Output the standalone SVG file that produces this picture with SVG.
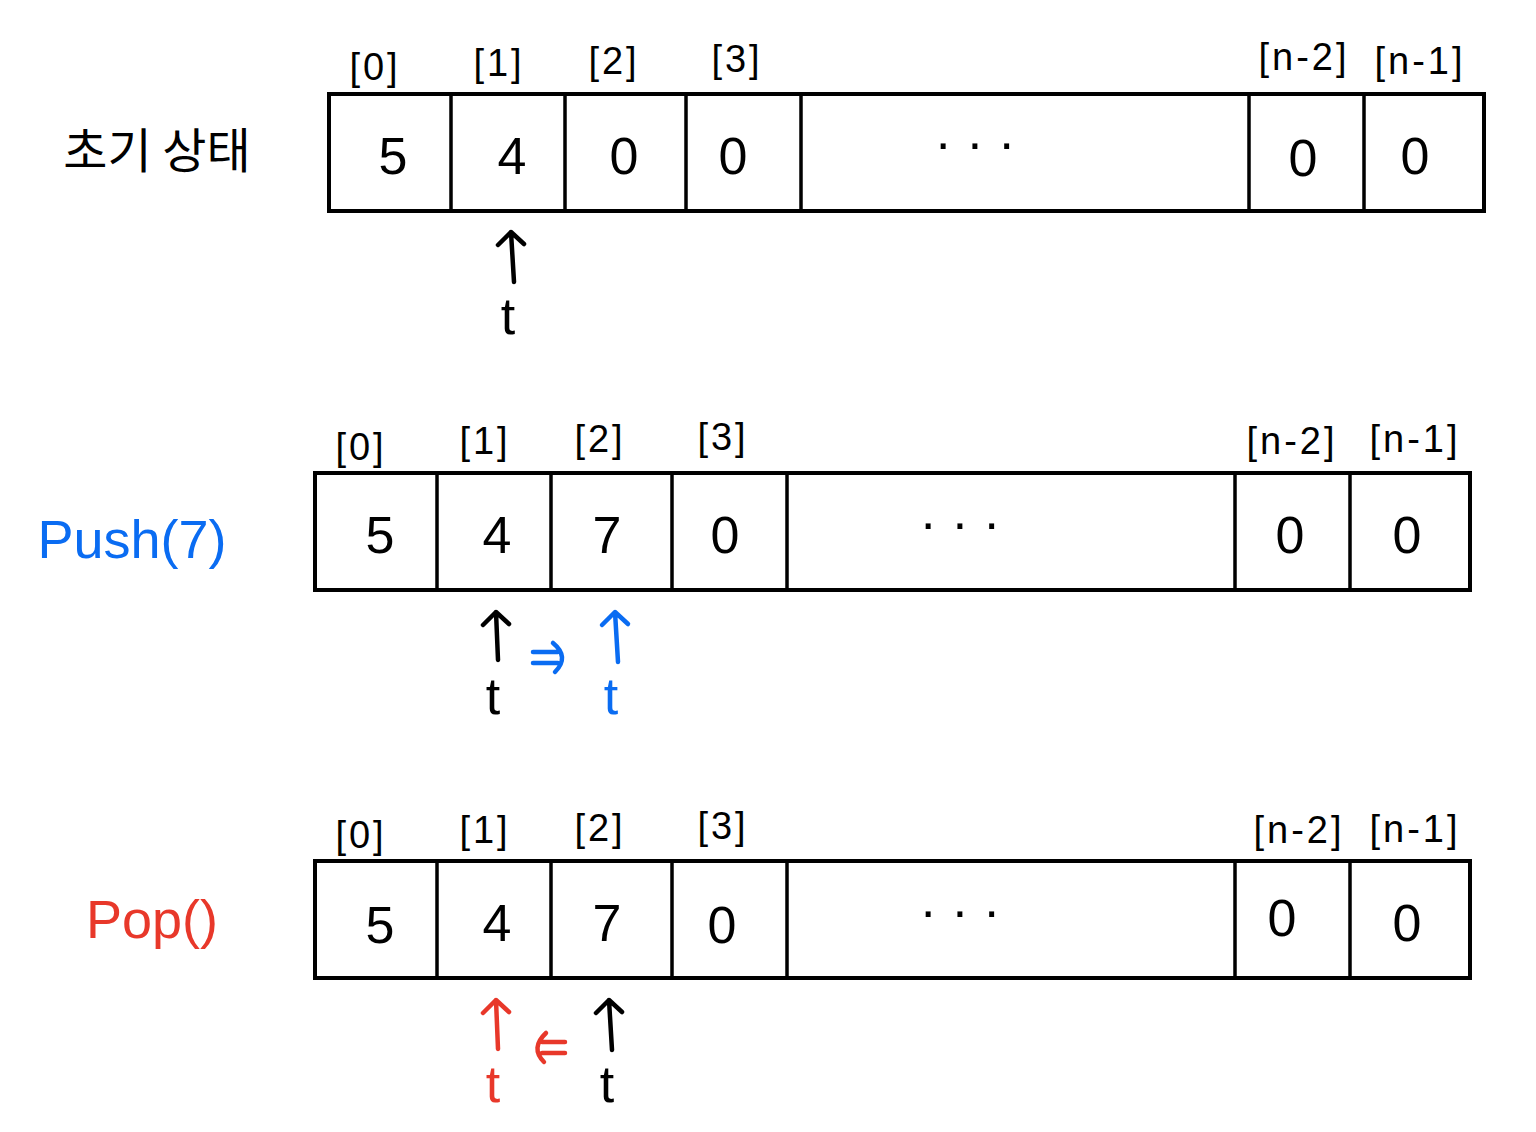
<svg xmlns="http://www.w3.org/2000/svg" width="1536" height="1132" viewBox="0 0 1536 1132">
<defs>
<style>
.box{fill:none;stroke:#000;stroke-width:4;stroke-linejoin:miter}
.div{stroke:#000;stroke-width:3.5}
.idx{font-family:"Liberation Sans","Noto Sans CJK KR",sans-serif;font-size:38px;fill:#000;text-anchor:middle;letter-spacing:3px}
.val{font-family:"Liberation Sans","Noto Sans CJK KR",sans-serif;font-size:52px;fill:#000;text-anchor:middle}
.lbl{font-family:"Noto Sans CJK KR","Liberation Sans",sans-serif;font-size:48px;text-anchor:middle}
.t{font-family:"Liberation Sans",sans-serif;font-size:52px;text-anchor:middle}
.arr{fill:none;stroke-width:4.5;stroke-linecap:round;stroke-linejoin:round}
.blue{stroke:#0a6cf2}
.red{stroke:#e8382a}
.blk{stroke:#000}
</style>
</defs>
<rect width="1536" height="1132" fill="#fff"/>

<g id="label-init"><text class="lbl" x="157" y="168" fill="#000">초기 상태</text></g>
<g id="label-push"><text class="lbl" x="132" y="558" fill="#0a6cf2" style="font-family:'Liberation Sans',sans-serif;font-size:54px">Push(7)</text></g>
<g id="label-pop"><text class="lbl" x="152" y="938" fill="#e8382a" style="font-family:'Liberation Sans',sans-serif;font-size:54px">Pop()</text></g>

<g id="array-init">
<rect class="box" x="329" y="94" width="1155" height="117"/>
<path class="div" d="M451 94V211M565 94V211M686 94V211M801 94V211M1249 94V211M1364 94V211"/>
<text class="idx" x="375" y="80">[0]</text><text class="idx" x="499" y="76">[1]</text><text class="idx" x="614" y="74">[2]</text><text class="idx" x="737" y="72">[3]</text><text class="idx" x="1304" y="70">[n-2]</text><text class="idx" x="1420" y="74">[n-1]</text>
<text class="val" x="393" y="174">5</text><text class="val" x="512" y="174">4</text><text class="val" x="624" y="174">0</text><text class="val" x="733" y="174">0</text><text class="val" x="975" y="160">· · ·</text><text class="val" x="1303" y="176">0</text><text class="val" x="1415" y="174">0</text>
</g>

<g id="array-push">
<rect class="box" x="315" y="473" width="1155" height="117"/>
<path class="div" d="M437 473V590M551 473V590M672 473V590M787 473V590M1235 473V590M1350 473V590"/>
<text class="idx" x="361" y="460">[0]</text><text class="idx" x="485" y="454">[1]</text><text class="idx" x="600" y="452">[2]</text><text class="idx" x="723" y="450">[3]</text><text class="idx" x="1292" y="454">[n-2]</text><text class="idx" x="1415" y="452">[n-1]</text>
<text class="val" x="380" y="553">5</text><text class="val" x="497" y="553">4</text><text class="val" x="607" y="553" fill="#0a6cf2">7</text><text class="val" x="725" y="553">0</text><text class="val" x="960" y="540">· · ·</text><text class="val" x="1290" y="553">0</text><text class="val" x="1407" y="553">0</text>
</g>

<g id="array-pop">
<rect class="box" x="315" y="861" width="1155" height="117"/>
<path class="div" d="M437 861V978M551 861V978M672 861V978M787 861V978M1235 861V978M1350 861V978"/>
<text class="idx" x="361" y="848">[0]</text><text class="idx" x="485" y="843">[1]</text><text class="idx" x="600" y="841">[2]</text><text class="idx" x="723" y="839">[3]</text><text class="idx" x="1299" y="843">[n-2]</text><text class="idx" x="1415" y="842">[n-1]</text>
<text class="val" x="380" y="943">5</text><text class="val" x="497" y="941">4</text><text class="val" x="607" y="941">7</text><text class="val" x="722" y="943">0</text><text class="val" x="960" y="928">· · ·</text><text class="val" x="1282" y="936">0</text><text class="val" x="1407" y="941">0</text>
</g>

<g id="connectors">
<path class="arr blk" d="M514 282L511 232M498 245L511 232L524 244"/>
<path class="arr blk" d="M498 660L496 612M483 625L496 612L509 624"/>
<path class="arr blue" d="M618 662L615 612M602 625L615 612L628 624"/>
<path class="arr blue" d="M533 652H558M533 663H558M553 643Q570 657 555 672"/>
<path class="arr red" d="M498 1049L496 1000M483 1013L496 1000L509 1012"/>
<path class="arr blk" d="M612 1050L609 1000M596 1013L609 1000L622 1012"/>
<path class="arr red" d="M542 1042H565M542 1053H565M546 1033Q530 1048 544 1062"/>
</g>

<g id="pointer-labels">
<text class="t" x="508" y="334" fill="#000">t</text>
<text class="t" x="493" y="714" fill="#000">t</text>
<text class="t" x="611" y="714" fill="#0a6cf2">t</text>
<text class="t" x="493" y="1102" fill="#e8382a">t</text>
<text class="t" x="607" y="1102" fill="#000">t</text>
</g>
</svg>
